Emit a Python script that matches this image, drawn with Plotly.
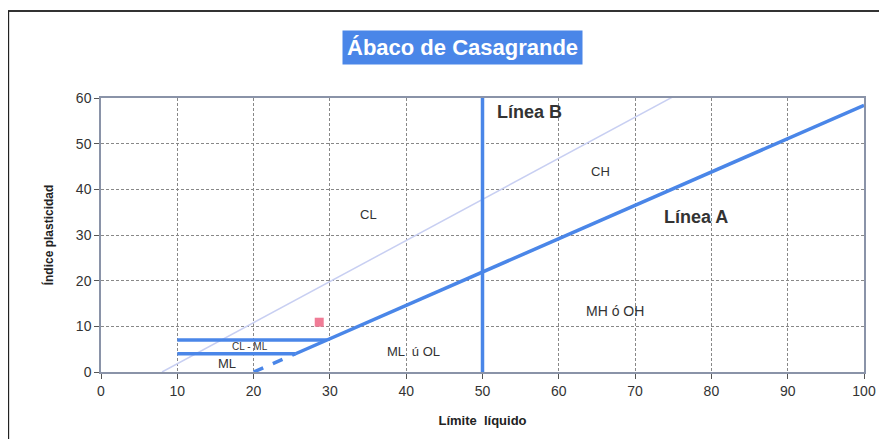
import plotly.graph_objects as go

# Casagrande chart data
linea_a_x = [25.5, 100]
linea_a_y = [4, 58.4]
linea_a_dash_x = [20, 25.5]
linea_a_dash_y = [0, 4]
linea_u_x = [8, 75]
linea_u_y = [0, 60.3]
linea_b_x = [50, 50]
linea_b_y = [0, 60]
cl_ml_top_x = [10, 29.6]
cl_ml_top_y = [7, 7]
cl_ml_bot_x = [10, 25.5]
cl_ml_bot_y = [4, 4]
punto_x = [28.6]
punto_y = [10.9]

zonas = ["CL", "CH", "MH ó OH", "ML  ú OL", "CL - ML", "ML"]
zonas_x = [35, 65.5, 67.3, 41, 19.5, 16.5]
zonas_y = [34.5, 44, 13.3, 4.5, 5.6, 1.8]
zonas_size = [13, 13, 14, 13, 10, 13]

azul = "#4a86e8"

fig = go.Figure()
fig.add_trace(go.Scatter(x=linea_u_x, y=linea_u_y, mode="lines",
                         line=dict(color="#c8cff2", width=1.5)))
fig.add_trace(go.Scatter(x=linea_a_x, y=linea_a_y, mode="lines",
                         line=dict(color=azul, width=3.5)))
fig.add_trace(go.Scatter(x=linea_a_dash_x, y=linea_a_dash_y, mode="lines",
                         line=dict(color=azul, width=3.5, dash="dash")))
fig.add_trace(go.Scatter(x=linea_b_x, y=linea_b_y, mode="lines",
                         line=dict(color=azul, width=3.5)))
fig.add_trace(go.Scatter(x=cl_ml_top_x, y=cl_ml_top_y, mode="lines",
                         line=dict(color=azul, width=3.5)))
fig.add_trace(go.Scatter(x=cl_ml_bot_x, y=cl_ml_bot_y, mode="lines",
                         line=dict(color=azul, width=3.5)))
fig.add_trace(go.Scatter(x=punto_x, y=punto_y, mode="markers",
                         marker=dict(symbol="square", size=9, color="#f07c96")))

for t, x, y, s in zip(zonas, zonas_x, zonas_y, zonas_size):
    fig.add_annotation(x=x, y=y, text=t, showarrow=False,
                       font=dict(size=s, color="#333333"))

fig.add_annotation(x=78, y=34, text="<b>Línea A</b>", showarrow=False,
                   font=dict(size=18, color="#333333"))
fig.add_annotation(x=56.2, y=57, text="<b>Línea B</b>", showarrow=False,
                   font=dict(size=18, color="#333333"))

# title box
fig.add_annotation(xref="paper", yref="paper", x=0.474, y=1.186,
                   xanchor="center", yanchor="middle",
                   text="<b>Ábaco de Casagrande</b>", showarrow=False,
                   bgcolor="#4a86e8", borderpad=4,
                   font=dict(size=22, color="white"))

# frame lines of the original picture
fig.add_shape(type="line", xref="paper", yref="paper", x0=-0.122, x1=1.1,
              y0=1.3175, y1=1.3175, line=dict(color="#333333", width=2))
fig.add_shape(type="line", xref="paper", yref="paper", x0=-0.122, x1=-0.122,
              y0=1.3175, y1=-0.3, line=dict(color="#222222", width=2.5))

fig.update_layout(
    width=887, height=439,
    margin=dict(l=93, r=31, t=90, b=75, autoexpand=False),
    plot_bgcolor="white", paper_bgcolor="white",
    showlegend=False,
    font=dict(family="Liberation Sans, Arial", color="#333333"),
)

fig.update_xaxes(range=[0, 100], tick0=0, dtick=10, showgrid=True,
                 gridcolor="#888888", griddash="3px,2px", gridwidth=1,
                 showline=True, linecolor="#8a93a8", linewidth=1.5, mirror=True,
                 ticks="outside", ticklen=5, tickcolor="#555555", automargin=False,
                 tickfont=dict(size=14, color="#333333"), zeroline=False,
                 title=dict(text="<b>Límite  líquido</b>", standoff=18,
                            font=dict(size=13, color="#222222")))
fig.update_yaxes(range=[0, 60], tick0=0, dtick=10, showgrid=True,
                 gridcolor="#888888", griddash="3px,2px", gridwidth=1,
                 showline=True, linecolor="#8a93a8", linewidth=1.5, mirror=True,
                 ticks="outside", ticklen=5, tickcolor="#555555", automargin=False,
                 tickfont=dict(size=14, color="#333333"), zeroline=False,
                 title=dict(text="<b>Índice plasticidad</b>", standoff=20,
                            font=dict(size=12, color="#222222")))

fig.write_html("out.html")
